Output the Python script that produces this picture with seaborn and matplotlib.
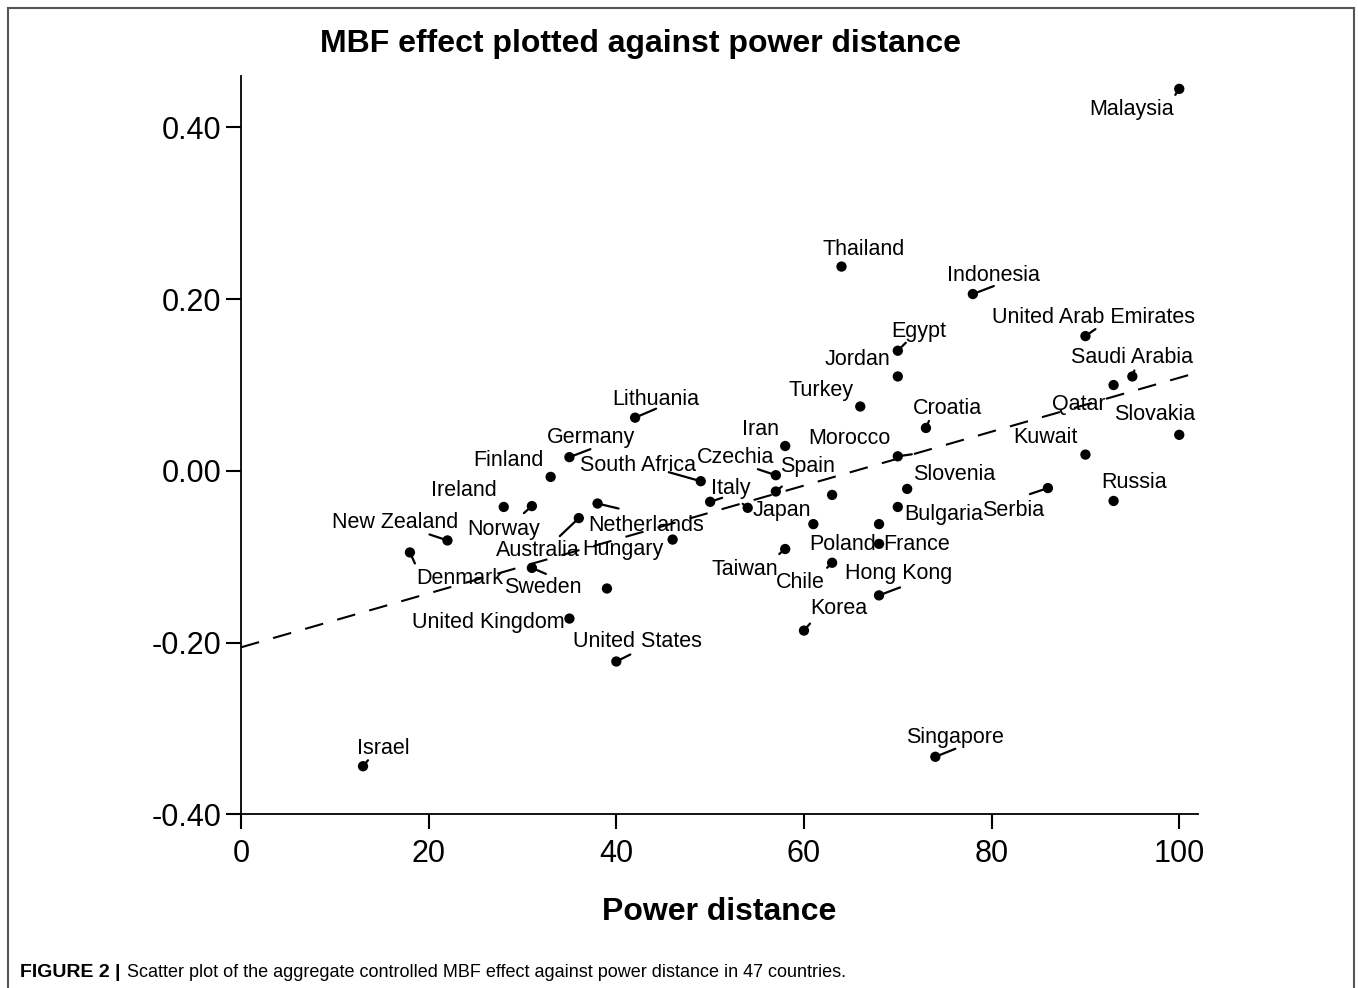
import numpy as np
import pandas as pd
import matplotlib
matplotlib.use("Agg")
import matplotlib.pyplot as plt
import matplotlib.ticker as mticker
from matplotlib.patches import Rectangle
import seaborn as sns

# values (power distance vs. controlled MBF effect)
countries = [
    "Malaysia", "Thailand", "Indonesia", "United Arab Emirates", "Egypt",
    "Jordan", "Saudi Arabia", "Qatar", "Turkey", "Lithuania",
    "Croatia", "Slovakia", "Iran", "Kuwait", "Morocco",
    "Germany", "Finland", "Czechia", "South Africa", "Slovenia",
    "Serbia", "Spain", "", "Russia", "Italy",
    "Netherlands", "Bulgaria", "Ireland", "Norway", "Japan",
    "Australia", "", "Poland", "Hungary", "New Zealand",
    "France", "Taiwan", "Denmark", "Chile", "Sweden",
    "", "Hong Kong", "United Kingdom", "Korea", "United States",
    "Singapore", "Israel",
]
power_distance = [
    100, 64, 78, 90, 70,
    70, 95, 93, 66, 42,
    73, 100, 58, 90, 70,
    35, 33, 57, 49, 71,
    86, 57, 63, 93, 50,
    38, 70, 28, 31, 54,
    36, 61, 68, 46, 22,
    68, 58, 18, 63, 31,
    39, 68, 35, 60, 40,
    74, 13,
]
mbf_effect = [
    0.445, 0.238, 0.206, 0.157, 0.140,
    0.110, 0.110, 0.100, 0.075, 0.062,
    0.050, 0.042, 0.029, 0.019, 0.017,
    0.016, -0.007, -0.005, -0.012, -0.021,
    -0.020, -0.024, -0.028, -0.035, -0.036,
    -0.038, -0.042, -0.042, -0.041, -0.043,
    -0.055, -0.062, -0.062, -0.080, -0.081,
    -0.085, -0.091, -0.095, -0.107, -0.113,
    -0.137, -0.145, -0.172, -0.186, -0.222,
    -0.333, -0.344,
]
x_ticks = [0, 20, 40, 60, 80, 100]
y_ticks = [-0.40, -0.20, 0.00, 0.20, 0.40]

# label placement: (dx, dy, ha) in pixels from the dot, dy positive = down
label_pos = {
    "Malaysia": (-5, 26, "right"), "Thailand": (-19, -12, "left"),
    "Indonesia": (-26, -13, "left"), "United Arab Emirates": (-93, -13, "left"),
    "Egypt": (-7, -14, "left"), "Jordan": (-7, -11, "right"),
    "Saudi Arabia": (-61, -13, "left"), "Qatar": (-8, 25, "right"),
    "Turkey": (-7, -11, "right"), "Lithuania": (-23, -13, "left"),
    "Croatia": (-13, -14, "left"), "Slovakia": (16, -15, "right"),
    "Iran": (-6, -11, "right"), "Kuwait": (-8, -12, "right"),
    "Morocco": (-7, -12, "right"), "Germany": (-23, -14, "left"),
    "Finland": (-7, -11, "right"), "Czechia": (-2, -12, "right"),
    "South Africa": (-5, -10, "right"), "Slovenia": (6, -9, "left"),
    "Serbia": (-4, 28, "right"), "Spain": (4, -20, "left"),
    "Russia": (-12, -13, "left"), "Italy": (1, -8, "left"),
    "Netherlands": (-9, 27, "left"), "Bulgaria": (6, 13, "left"),
    "Ireland": (-7, -11, "right"), "Norway": (8, 29, "right"),
    "Japan": (5, 8, "left"), "Australia": (1, 38, "right"),
    "Poland": (-3, 26, "right"), "Hungary": (-9, 15, "right"),
    "New Zealand": (11, -12, "right"), "France": (4, 6, "left"),
    "Taiwan": (-7, 26, "right"), "Denmark": (6, 32, "left"),
    "Chile": (-7, 25, "right"), "Sweden": (-28, 25, "left"),
    "Hong Kong": (-34, -16, "left"), "United Kingdom": (-5, 9, "right"),
    "Korea": (6, -17, "left"), "United States": (-43, -14, "left"),
    "Singapore": (-29, -14, "left"), "Israel": (-6, -12, "left"),
}
# short leader strokes from the dot: end point (dx, dy) in pixels
leaders = {
    "Malaysia": (-4, 6), "Lithuania": (21, -9), "Germany": (21, -8),
    "South Africa": (-32, -9), "Norway": (-8, 7), "New Zealand": (-18, -6),
    "Netherlands": (21, 5), "Australia": (-19, 18), "Denmark": (5, 11),
    "Sweden": (14, 6), "United States": (14, -7), "Croatia": (3, -7),
    "Morocco": (14, -2), "Czechia": (-18, -6), "Spain": (6, -5),
    "Italy": (12, -4), "Japan": (-5, -4), "Serbia": (-18, 6),
    "Taiwan": (-6, 5), "Chile": (-5, 5), "Hong Kong": (21, -8),
    "Korea": (6, -7), "Indonesia": (21, -8), "United Arab Emirates": (10, -7),
    "Egypt": (8, -8), "Saudi Arabia": (2, -6), "Singapore": (20, -8),
    "Israel": (5, -6),
}

df = pd.DataFrame({"country": countries, "pdi": power_distance, "mbf": mbf_effect})

sns.set_style("ticks")
plt.rcParams["font.family"] = ["Liberation Sans", "DejaVu Sans"]
plt.rcParams["axes.unicode_minus"] = False
plt.rcParams["text.color"] = "black"
plt.rcParams["axes.labelcolor"] = "black"
plt.rcParams["xtick.color"] = "black"
plt.rcParams["ytick.color"] = "black"

fig = plt.figure(figsize=(13.58, 9.88), dpi=100)
ax = fig.add_axes([0.1775, 0.1758, 0.8822 - 0.1775, 0.9231 - 0.1758])
ax.set_xlim(0, 102)
ax.set_ylim(-0.40, 0.46)

sns.regplot(data=df, x="pdi", y="mbf", ax=ax, scatter=False, ci=None,
            truncate=False, color="black",
            line_kws={"lw": 1.5, "linestyle": (0, (9, 7))})
sns.scatterplot(data=df, x="pdi", y="mbf", ax=ax, color="black", s=55,
                edgecolor="none", zorder=3)

for name, px, py in zip(countries, power_distance, mbf_effect):
    if name in leaders:
        lx, ly = leaders[name]
        ax.annotate("", xy=(px, py), xytext=(lx, -ly), textcoords="offset pixels",
                    arrowprops=dict(arrowstyle="-", lw=1.6, color="black",
                                    shrinkA=0, shrinkB=0))
    if name in label_pos:
        dx, dy, ha = label_pos[name]
        ax.annotate(name, xy=(px, py), xytext=(dx, -dy), textcoords="offset pixels",
                    ha=ha, va="baseline", fontsize=15.5, color="black")

ax.set_xticks(x_ticks)
ax.set_yticks(y_ticks)
ax.yaxis.set_major_formatter(mticker.FormatStrFormatter("%.2f"))
ax.tick_params(axis="both", direction="out", length=11, width=1.5,
               labelsize=22, color="black", labelcolor="black")
ax.tick_params(axis="x", pad=7)
ax.tick_params(axis="y", pad=3)
sns.despine(ax=ax)
for side in ["left", "bottom"]:
    ax.spines[side].set_linewidth(1.3)
    ax.spines[side].set_color("black")

ax.set_xlabel("Power distance", fontsize=23, fontweight="bold", labelpad=20,
              color="black")
ax.set_ylabel("")

fig.text(0.472, 0.947, "MBF effect plotted against power distance",
         ha="center", va="baseline", fontsize=23, fontweight="bold", color="black")

# caption below the figure frame
fig.text(20 / 1358, 1 - 977 / 988, "FIGURE 2 |", ha="left", va="baseline",
         fontsize=14, fontweight="bold", color="black")
fig.text(127 / 1358, 1 - 977 / 988,
         "Scatter plot of the aggregate controlled MBF effect against power distance in 47 countries.",
         ha="left", va="baseline", fontsize=13, color="black")

# thin gray frame around the figure panel (open at the bottom)
fig.add_artist(Rectangle((8 / 1358, -0.05), (1354 - 8) / 1358, 1.05 - 8 / 988,
                         transform=fig.transFigure, fill=False,
                         edgecolor="#555555", lw=1.5, clip_on=False))

fig.savefig("out.png", dpi=100)
plt.close(fig)
